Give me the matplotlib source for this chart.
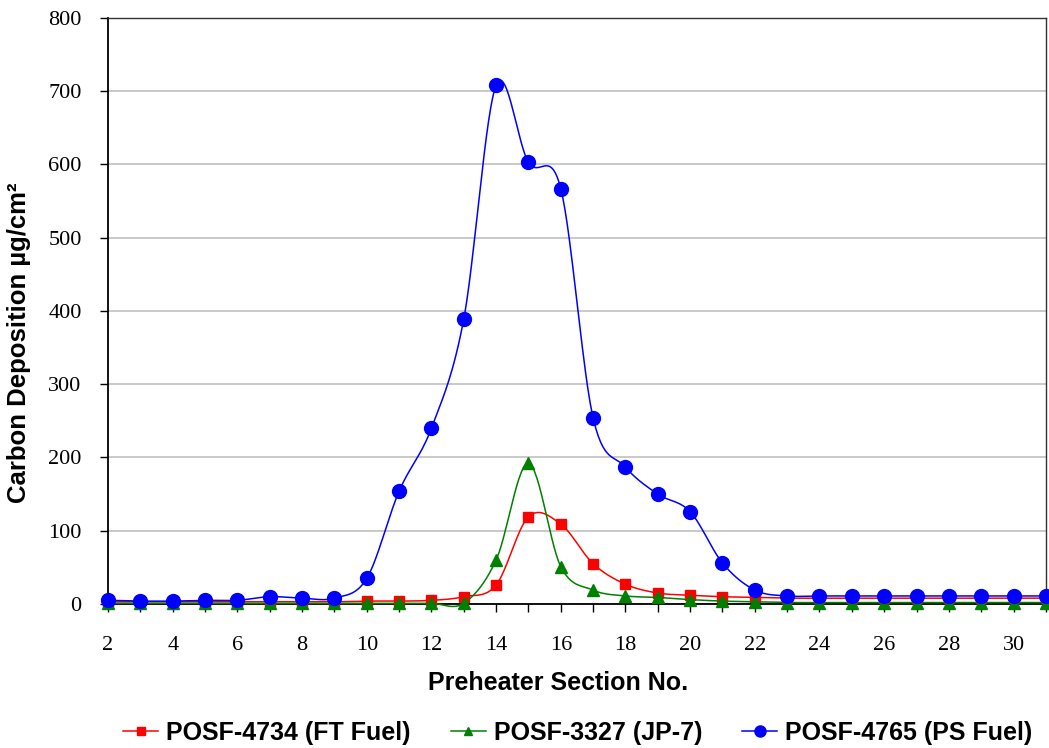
import numpy as np
import matplotlib
matplotlib.use("Agg")
import matplotlib.pyplot as plt
from matplotlib.lines import Line2D

sections = list(range(2, 32))

ft_fuel = [3, 3, 3, 3, 3, 3, 3, 3, 4, 4, 5, 10, 26, 119, 109, 55, 27, 15,
           12, 10, 9, 8, 8, 8, 8, 8, 8, 8, 8, 8]
jp7 = [1, 1, 1, 1, 1, 1, 1, 1, 1, 1, 1, 1, 60, 192, 51, 19, 11, 9,
       6, 4, 3, 2, 2, 2, 2, 2, 2, 2, 2, 2]
ps_fuel = [5, 4, 4, 5, 5, 10, 8, 8, 35, 154, 240, 389, 708, 603, 567, 254,
           187, 150, 126, 56, 19, 11, 11, 11, 11, 11, 11, 11, 11, 11]

labels = ["POSF-4734 (FT Fuel)", "POSF-3327 (JP-7)", "POSF-4765 (PS Fuel)"]
colors = ["#ff0000", "#008000", "#0000ff"]
markers = ["s", "^", "o"]
msizes = [7, 8, 10]


def smooth(x, y, n=30):
    """Catmull-Rom style Bezier smoothing through every point."""
    x = np.asarray(x, float)
    y = np.asarray(y, float)
    px, py = [], []
    for i in range(len(x) - 1):
        x0, y0 = (x[i - 1], y[i - 1]) if i > 0 else (x[i], y[i])
        x3, y3 = (x[i + 2], y[i + 2]) if i + 2 < len(x) else (x[i + 1], y[i + 1])
        x1, y1 = x[i], y[i]
        x2, y2 = x[i + 1], y[i + 1]
        c1x, c1y = x1 + (x2 - x0) / 6, y1 + (y2 - y0) / 6
        c2x, c2y = x2 - (x3 - x1) / 6, y2 - (y3 - y1) / 6
        t = np.linspace(0, 1, n, endpoint=False)
        b0, b1, b2, b3 = (1 - t) ** 3, 3 * t * (1 - t) ** 2, 3 * t ** 2 * (1 - t), t ** 3
        px.extend(b0 * x1 + b1 * c1x + b2 * c2x + b3 * x2)
        py.extend(b0 * y1 + b1 * c1y + b2 * c2y + b3 * y2)
    px.append(x[-1])
    py.append(y[-1])
    return np.array(px), np.array(py)


fig = plt.figure(figsize=(10.49, 7.48), dpi=100)
ax = fig.add_axes([0.103, 0.1925, 0.894, 0.7835])

series = [ft_fuel, jp7, ps_fuel]
handles = []
for k, (vals, lab, c, m, ms) in enumerate(zip(series, labels, colors, markers, msizes)):
    sx, sy = smooth(sections, vals)
    ax.plot(sx, sy, color=c, lw=1.1, zorder=3 + k, clip_on=False)
    ax.plot(sections, vals, ls="none", marker=m, ms=ms, color=c,
            mec=c, zorder=3 + k, clip_on=False)
    handles.append(Line2D([], [], color=c, lw=1.1, marker=m, ms=ms * 0.8,
                          mec=c, label=lab))

ax.set_xlim(2, 31)
ax.set_ylim(0, 800)
ax.set_xticks(range(2, 32, 2))
ax.set_xticks(range(2, 32), minor=True)
ax.set_yticks(range(0, 801, 100))
ax.yaxis.grid(True, color="#c0c0c0", lw=1.2)
ax.set_axisbelow(True)

for s in ["left", "bottom"]:
    ax.spines[s].set_color("black")
    ax.spines[s].set_linewidth(1.3)
for s in ["top", "right"]:
    ax.spines[s].set_color("#333333")
    ax.spines[s].set_linewidth(1.0)

ax.tick_params(axis="both", which="both", direction="out", length=6,
               width=1.0, color="black")
ax.tick_params(axis="x", which="major", pad=17)
ax.tick_params(axis="y", which="major", pad=13)
for t in ax.get_xticklabels() + ax.get_yticklabels():
    t.set_fontfamily("Liberation Serif")
    t.set_fontsize(16)

ax.set_xlabel("Preheater Section No.", fontfamily="Liberation Sans",
              fontsize=18, fontweight="bold")
ax.set_ylabel("Carbon Deposition µg/cm²", fontfamily="Liberation Sans",
              fontsize=18.5, fontweight="bold")
ax.xaxis.set_label_coords(0.480, -0.114)
ax.yaxis.set_label_coords(-0.082, 0.445)

fig.legend(handles=handles, loc="center", bbox_to_anchor=(0.551, 0.02),
           ncol=3, frameon=False, handlelength=1.4, handletextpad=0.32,
           columnspacing=1.6,
           prop={"family": "Liberation Sans", "weight": "bold", "size": 18})

fig.savefig("out.png", dpi=100)
